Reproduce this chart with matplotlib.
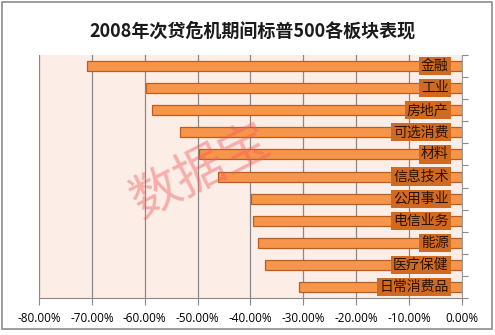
import numpy as np
import matplotlib.pyplot as plt
from matplotlib.patches import Rectangle

plt.rcParams['font.family'] = ['Noto Sans CJK SC', 'DejaVu Sans']

# 各板块在次贷危机期间的跌幅（%）
sectors = ['金融', '工业', '房地产', '可选消费', '材料', '信息技术',
           '公用事业', '电信业务', '能源', '医疗保健', '日常消费品']
changes = [-71.0, -59.8, -58.7, -53.4, -49.7, -46.1,
           -39.9, -39.6, -38.5, -37.2, -30.9]
xticks = [-80, -70, -60, -50, -40, -30, -20, -10, 0]

fig = plt.figure(figsize=(4.95, 3.35), dpi=100)
fig.patch.set_facecolor('white')
fig.patches.append(Rectangle((0.004, 0.018), 0.99, 0.975, transform=fig.transFigure,
                             fill=False, edgecolor='#8c8c8c', linewidth=1.2))

ax = fig.add_axes([0.079, 0.11, 0.854, 0.726])
ax.set_facecolor('#fcede6')

y = np.arange(len(sectors))
ax.barh(y, changes, height=0.45, color='#f7964a', edgecolor='#b85e20', linewidth=0.9, zorder=3)

for yi, name in zip(y, sectors):
    ax.text(-2.5, yi, name, ha='right', va='center', fontsize=10, color='#2a1200',
            zorder=4, bbox=dict(boxstyle='square,pad=0.15', facecolor='#d06a20', edgecolor='none'))

ax.set_xlim(-80, 0)
ax.set_ylim(len(sectors) - 0.5, -0.5)
ax.set_xticks(xticks)
ax.set_xticklabels([f'{v:.2f}%' for v in xticks], fontsize=8.5, family='Open Sans')
ax.xaxis.grid(True, color='#8a8a8a', linewidth=0.9, zorder=1)
ax.tick_params(axis='x', length=5, color='#8a8a8a', pad=5)

# 纵轴放在0%处，刻度在类别分界
ax.yaxis.tick_right()
ax.set_yticks(np.arange(len(sectors) + 1) - 0.5)
ax.set_yticklabels([])
ax.tick_params(axis='y', length=4, color='#8a8a8a', direction='out')

for side in ['top', 'left']:
    ax.spines[side].set_visible(False)
ax.spines['bottom'].set_color('#8a8a8a')
ax.spines['right'].set_color('#8a8a8a')
ax.spines['right'].set_linewidth(0.6)

fig.text(0.51, 0.907, '2008年次贷危机期间标普500各板块表现', ha='center', va='center',
         fontsize=13, fontweight='bold', color='#1a1a1a')

# 水印
fig.text(0.405, 0.487, '数据宝', ha='center', va='center', fontsize=36, color='#f06060',
         alpha=0.45, rotation=27, zorder=10)

fig.savefig('out.png', dpi=100)
